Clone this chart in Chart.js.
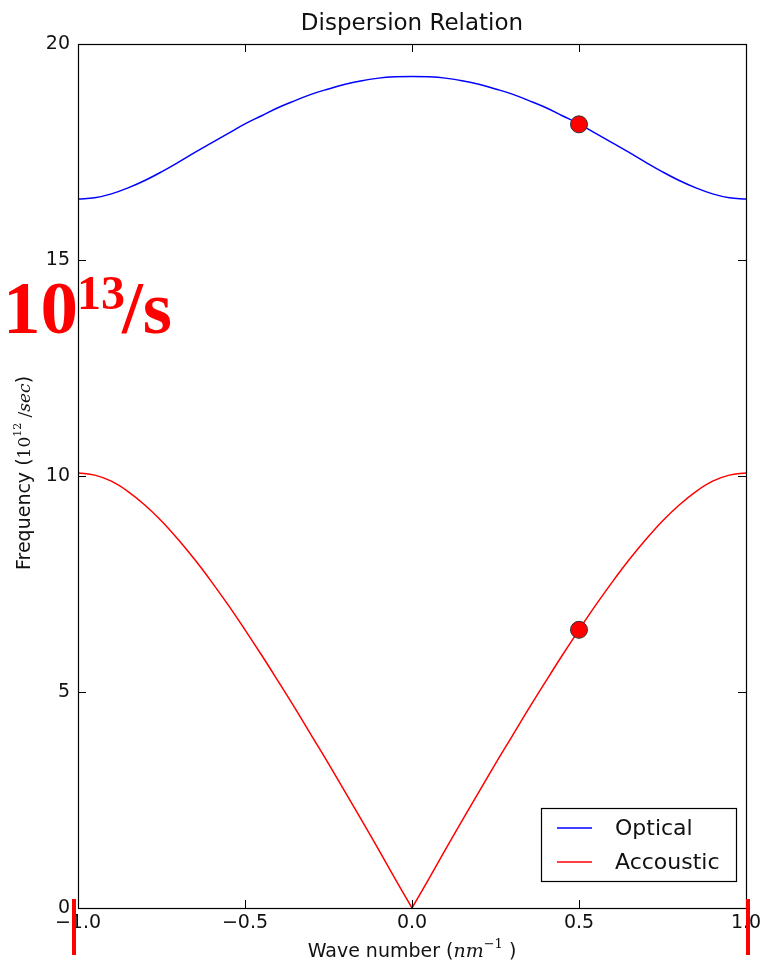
<!DOCTYPE html>
<html>
<head>
<meta charset="utf-8">
<script src="https://cdn.jsdelivr.net/npm/chart.js@4.4.1/dist/chart.umd.min.js"></script>
<style>
  html, body { margin: 0; padding: 0; background: #fff; }
  #wrap { width: 763px; height: 965px; }
</style>
</head>
<body>
<div id="wrap"><canvas id="dispChart" width="763" height="965"></canvas></div>
<script>
'use strict';

// values, x step 0.05
var waveNumber = [-1, -0.95, -0.9, -0.85, -0.8, -0.75, -0.7, -0.65, -0.6, -0.55, -0.5,
    -0.45, -0.4, -0.35, -0.3, -0.25, -0.2, -0.15, -0.1, -0.05, 0,
    0.05, 0.1, 0.15, 0.2, 0.25, 0.3, 0.35, 0.4, 0.45, 0.5,
    0.55, 0.6, 0.65, 0.7, 0.75, 0.8, 0.85, 0.9, 0.95, 1];
var optical = [16.41, 16.44, 16.53, 16.67, 16.84, 17.04, 17.26, 17.49, 17.71, 17.93, 18.15,
    18.34, 18.53, 18.69, 18.84, 18.96, 19.07, 19.15, 19.21, 19.24, 19.25,
    19.24, 19.21, 19.15, 19.07, 18.96, 18.84, 18.69, 18.53, 18.34, 18.15,
    17.93, 17.71, 17.49, 17.26, 17.04, 16.84, 16.67, 16.53, 16.44, 16.41];
var acoustic = [10.07, 10.02, 9.88, 9.64, 9.33, 8.96, 8.53, 8.06, 7.55, 7.01, 6.44,
    5.85, 5.24, 4.62, 3.98, 3.34, 2.68, 2.02, 1.35, 0.67, 0,
    0.67, 1.35, 2.02, 2.68, 3.34, 3.98, 4.62, 5.24, 5.85, 6.44,
    7.01, 7.55, 8.06, 8.53, 8.96, 9.33, 9.64, 9.88, 10.02, 10.07];
var markerX = [0.5, 0.5];
var markerY = [18.14, 6.44];
var xTicks = [-1, -0.5, 0, 0.5, 1];
var yTicks = [0, 5, 10, 15, 20];
var seriesNames = ['Optical', 'Accoustic'];
var seriesColors = ['#0000ff', '#ff0000'];

function toPoints(xs, ys) {
    return xs.map(function (x, i) { return { x: x, y: ys[i] }; });
}

function fmtX(v) {
    var s = Math.abs(v).toFixed(1);
    return v < 0 ? '\u2212' + s : s;
}

// draws a row of text pieces centred on cx, baseline at y
function drawRich(ctx, parts, cx, y) {
    var total = 0;
    parts.forEach(function (p) { ctx.font = p.font; p.w = ctx.measureText(p.t).width; total += p.w; });
    var x = cx - total / 2;
    ctx.textAlign = 'left';
    ctx.textBaseline = 'alphabetic';
    parts.forEach(function (p) {
        ctx.font = p.font;
        ctx.fillText(p.t, x, y + (p.dy || 0));
        x += p.w;
    });
}

var decor = {
    id: 'decor',
    afterDraw: function (chart) {
        var ctx = chart.ctx;
        var a = chart.chartArea;
        var xs = chart.scales.x, ys = chart.scales.y;
        ctx.save();

        // frame
        ctx.strokeStyle = '#000';
        ctx.lineWidth = 1.2;
        ctx.strokeRect(a.left + 0.5, a.top + 0.5, a.right - a.left, a.bottom - a.top);

        // inward ticks on all four sides
        ctx.lineWidth = 1;
        ctx.beginPath();
        xTicks.forEach(function (v) {
            var px = Math.round(xs.getPixelForValue(v)) + 0.5;
            ctx.moveTo(px, a.bottom); ctx.lineTo(px, a.bottom - 8);
            ctx.moveTo(px, a.top); ctx.lineTo(px, a.top + 8);
        });
        yTicks.forEach(function (v) {
            var py = Math.round(ys.getPixelForValue(v)) + 0.5;
            ctx.moveTo(a.left, py); ctx.lineTo(a.left + 8, py);
            ctx.moveTo(a.right, py); ctx.lineTo(a.right - 8, py);
        });
        ctx.stroke();

        ctx.fillStyle = '#111';
        var mid = (a.left + a.right) / 2;

        // title
        ctx.font = '23px "DejaVu Sans"';
        ctx.textAlign = 'center';
        ctx.textBaseline = 'alphabetic';
        ctx.fillText('Dispersion Relation', mid, 30);

        // x axis title
        drawRich(ctx, [
            { t: 'Wave number (', font: '19px "DejaVu Sans"' },
            { t: 'nm', font: 'italic 19px "DejaVu Serif"' },
            { t: '\u22121', font: '13px "DejaVu Serif"', dy: -9 },
            { t: ' )', font: '19px "DejaVu Sans"' }
        ], mid, 957);

        // y axis title
        ctx.save();
        ctx.translate(30, 473);
        ctx.rotate(-Math.PI / 2);
        drawRich(ctx, [
            { t: 'Frequency (', font: '19px "DejaVu Sans"' },
            { t: '10', font: '17px "DejaVu Serif"' },
            { t: '12', font: '11px "DejaVu Serif"', dy: -9 },
            { t: ' /', font: '17px "DejaVu Serif"' },
            { t: 'sec', font: 'italic 17px "DejaVu Serif"' },
            { t: ')', font: '19px "DejaVu Sans"' }
        ], 0, 0);
        ctx.restore();

        // legend box inside the plot, lower right
        var lx = 541.5, ly = 808.5, lw = 195, lh = 73;
        ctx.fillStyle = '#fff';
        ctx.fillRect(lx, ly, lw, lh);
        ctx.strokeStyle = '#000';
        ctx.lineWidth = 1.2;
        ctx.strokeRect(lx, ly, lw, lh);
        ctx.font = '22px "DejaVu Sans"';
        ctx.textAlign = 'left';
        ctx.textBaseline = 'middle';
        seriesNames.forEach(function (name, i) {
            var yy = 828 + i * 34;
            ctx.strokeStyle = seriesColors[i];
            ctx.lineWidth = 1.5;
            ctx.beginPath();
            ctx.moveTo(557, yy); ctx.lineTo(592, yy);
            ctx.stroke();
            ctx.fillStyle = '#111';
            ctx.fillText(name, 615, yy + 1);
        });

        // red annotation on top of the figure
        ctx.fillStyle = '#ff0000';
        ctx.textBaseline = 'alphabetic';
        ctx.font = 'bold 75px "Liberation Serif"';
        ctx.fillText('10', 3, 333);
        ctx.font = 'bold 48px "Liberation Serif"';
        ctx.fillText('13', 77, 309);
        ctx.font = 'bold 75px "Liberation Serif"';
        ctx.fillText('/s', 122, 333);

        ctx.fillRect(72, 899, 4, 56);
        ctx.fillRect(746, 899, 4, 56);

        ctx.restore();
    }
};

var lineStyle = { borderWidth: 1.5, pointRadius: 0, tension: 0.4, order: 1 };

var ctx = document.getElementById('dispChart').getContext('2d');
var chart = new Chart(ctx, {
    type: 'line',
    data: {
        datasets: [{
            label: 'markers',
            type: 'scatter',
            data: toPoints(markerX, markerY),
            pointRadius: 8.5,
            pointBackgroundColor: '#ff0000',
            pointBorderColor: '#333',
            pointBorderWidth: 1,
            showLine: false,
            order: 0
        }, Object.assign({
            label: seriesNames[0],
            data: toPoints(waveNumber, optical),
            borderColor: seriesColors[0]
        }, lineStyle), Object.assign({
            // acoustic branch drawn in two halves so the cusp at 0 stays sharp
            label: seriesNames[1],
            data: toPoints(waveNumber.slice(0, 21), acoustic.slice(0, 21)),
            borderColor: seriesColors[1]
        }, lineStyle), Object.assign({
            label: seriesNames[1] + ' right',
            data: toPoints(waveNumber.slice(20), acoustic.slice(20)),
            borderColor: seriesColors[1]
        }, lineStyle)]
    },
    options: {
        responsive: false,
        animation: false,
        layout: { padding: { top: 44, right: 17, left: 0, bottom: 0 } },
        plugins: {
            legend: { display: false },
            title: { display: false },
            tooltip: { enabled: false }
        },
        scales: {
            x: {
                type: 'linear',
                min: -1, max: 1,
                afterBuildTicks: function (s) { s.ticks = xTicks.map(function (v) { return { value: v }; }); },
                afterFit: function (s) {
                    s.height = 57;
                    s.paddingLeft = 0;
                    s.paddingRight = 0;
                },
                grid: { display: false, drawTicks: false },
                border: { display: false },
                ticks: {
                    color: '#111',
                    font: { family: 'DejaVu Sans', size: 19 },
                    padding: 4,
                    maxRotation: 0,
                    autoSkip: false,
                    callback: function (v) { return fmtX(v); }
                }
            },
            y: {
                min: 0, max: 20,
                afterBuildTicks: function (s) { s.ticks = yTicks.map(function (v) { return { value: v }; }); },
                afterFit: function (s) { s.width = 78; },
                grid: { display: false, drawTicks: false },
                border: { display: false },
                ticks: {
                    color: '#111',
                    font: { family: 'DejaVu Sans', size: 19 },
                    padding: 8,
                    autoSkip: false
                }
            }
        }
    },
    plugins: [decor]
});
</script>
</body>
</html>
